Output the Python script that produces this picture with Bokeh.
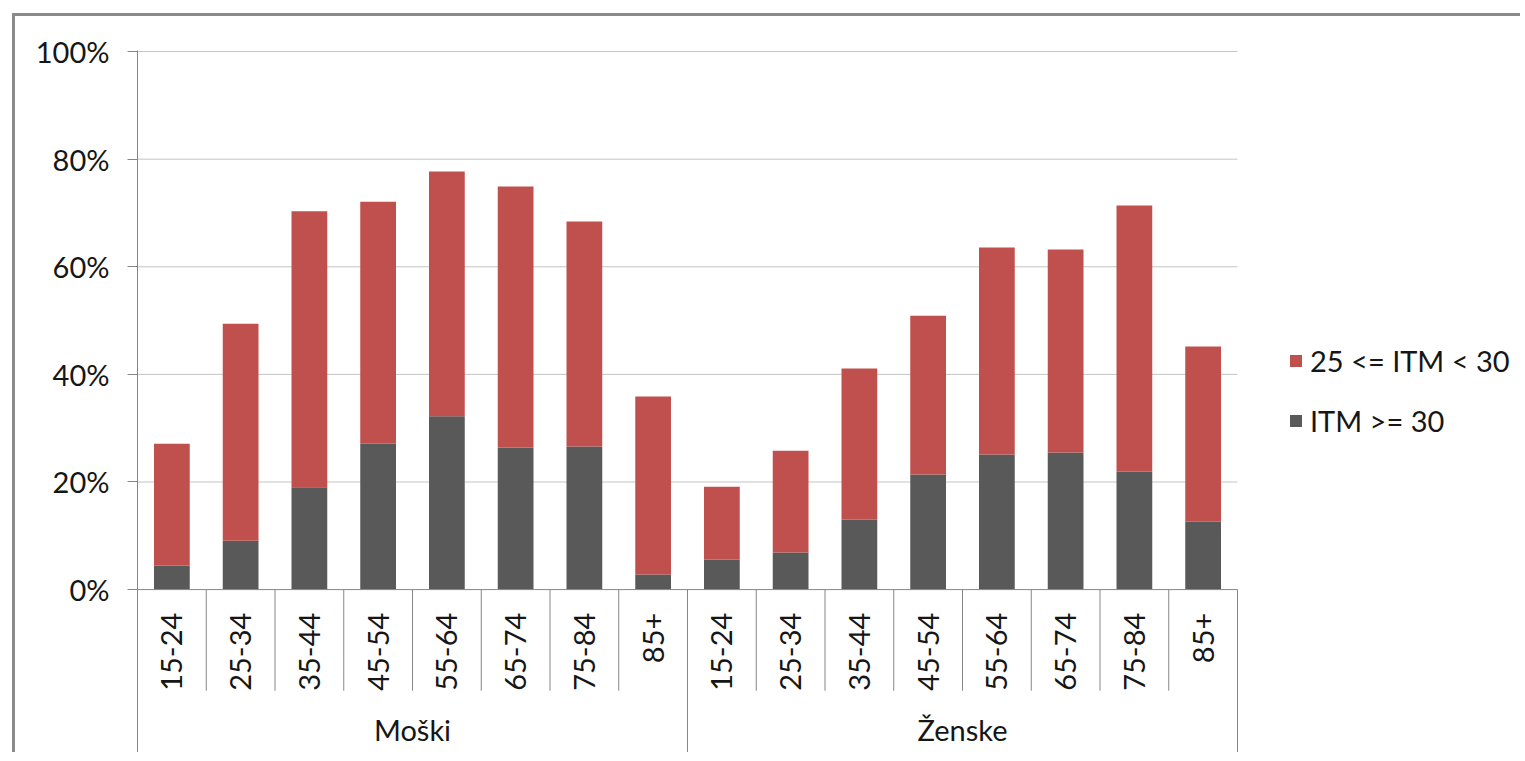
from math import pi
from bokeh.plotting import figure
from bokeh.models import (Range1d, FixedTicker, PrintfTickFormatter,
                          ColumnDataSource, Legend, LegendItem)
from bokeh.core.properties import value
from bokeh.embed import file_html
from bokeh.resources import INLINE

# ---- data ----
groups = ["Moški", "Ženske"]
ages = ["15-24", "25-34", "35-44", "45-54", "55-64", "65-74", "75-84", "85+"]
# ITM >= 30 (%)
obese_m = [4.5, 9.1, 19.0, 27.1, 32.2, 26.4, 26.6, 2.8]
obese_f = [5.6, 6.9, 13.0, 21.4, 25.1, 25.5, 21.9, 12.6]
# 25 <= ITM < 30 (%)
over_m = [22.6, 40.3, 51.3, 45.0, 45.5, 48.5, 41.8, 33.1]
over_f = [13.5, 18.9, 28.1, 29.5, 38.5, 37.7, 49.5, 32.6]
y_ticks = [0, 20, 40, 60, 80, 100]
series_names = ["25 <= ITM < 30", "ITM >= 30"]

RED = "#C0504D"
GREY = "#595959"
AXIS = "#868686"
GRID = "#c4c4c4"
FONT = "Lato"
FS = "29px"
TXT = "#161616"

per = len(ages)
n = per * len(groups)
pos = [i + 0.5 for i in range(n)]              # category centres (one unit per category)
group_pos = [g * per + per / 2 for g in range(len(groups))]

src = ColumnDataSource(dict(
    x=pos,
    obese=obese_m + obese_f,
    over=over_m + over_f,
))

FRAME_W = 1383      # frame reaches to the right edge; categories use 1100 px of it
p = figure(
    x_range=Range1d(0, n * FRAME_W / 1100),
    y_range=Range1d(-30.28, 100.2),
    width=1520, height=752,
    output_backend="svg", toolbar_location=None,
    x_axis_location=None,
    min_border_left=137, min_border_right=0, min_border_top=50, min_border_bottom=0,
)
p.outline_line_color = None
p.border_fill_color = None
p.background_fill_color = "white"
p.styles = {"background":
            "linear-gradient(#8a8a8a, #8a8a8a) 12px 13px / 3px calc(100% - 13px) no-repeat, "
            "linear-gradient(#8a8a8a, #8a8a8a) 12px 13px / calc(100% - 12px) 3px no-repeat, white"}

# y axis
yax = p.yaxis[0]
yax.ticker = FixedTicker(ticks=y_ticks)
yax.formatter = PrintfTickFormatter(format="%d%%")
yax.axis_line_color = AXIS
yax.major_tick_line_color = AXIS
yax.major_tick_out = 10
yax.major_tick_in = 0
yax.minor_tick_line_color = None
yax.major_label_text_font = FONT
yax.major_label_text_font_size = FS
yax.major_label_text_color = TXT
yax.major_label_standoff = 18

p.xgrid.visible = False
p.ygrid.visible = False

# horizontal gridlines over the category area only
grid_t = [t for t in y_ticks if t > 0]
p.segment(x0=[0] * len(grid_t), x1=[n] * len(grid_t), y0=grid_t, y1=grid_t,
          line_color=GRID, line_width=1)

# bars
rs = p.vbar_stack(["obese", "over"], x="x", width=0.52, color=[GREY, RED],
                  line_color=None, source=src)

# baseline
p.segment(x0=[0], x1=[n], y0=[0], y1=[0], line_color=AXIS, line_width=1)

# category separators
inner = [b for b in range(n + 1) if b % per != 0]
outer = [b for b in range(n + 1) if b % per == 0]
p.segment(x0=inner, y0=[0] * len(inner), x1=inner, y1=[-18.8] * len(inner),
          line_color=AXIS, line_width=1)
p.segment(x0=outer, y0=[0] * len(outer), x1=outer, y1=[-31] * len(outer),
          line_color=AXIS, line_width=1)

# age labels (rotated)
p.text(x=pos, y=[-4.3] * n, text=[a for g in groups for a in ages],
       angle=pi / 2, text_align="right", text_baseline="middle",
       text_font=value(FONT), text_font_size=value(FS), text_color=TXT)
# group labels
p.text(x=group_pos, y=[-26.0] * len(groups), text=groups,
       text_align="center", text_baseline="middle",
       text_font=value(FONT), text_font_size=value(FS), text_color=TXT)

legend = Legend(items=[LegendItem(label=series_names[0], renderers=[rs[1]]),
                       LegendItem(label=series_names[1], renderers=[rs[0]])],
                location=(1151, 314))
legend.glyph_width = 15
legend.glyph_height = 15
legend.label_text_font = FONT
legend.label_text_font_size = FS
legend.label_text_color = TXT
legend.spacing = 25
legend.padding = 0
legend.margin = 0
legend.border_line_color = None
legend.background_fill_color = None
legend.label_standoff = 7
p.add_layout(legend)

open("out.html", "w").write(file_html(p, INLINE))
